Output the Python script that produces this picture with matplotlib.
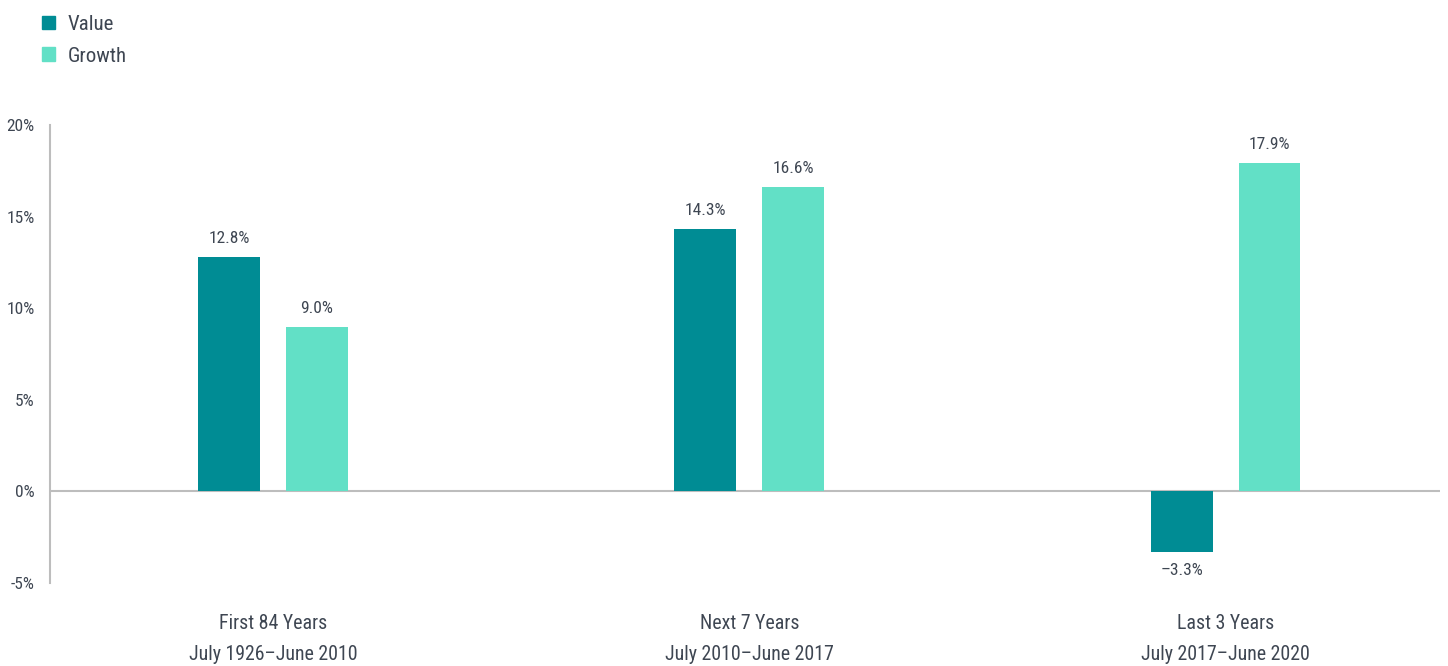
import matplotlib
matplotlib.use("Agg")
import matplotlib.pyplot as plt
import numpy as np
from matplotlib.patches import Patch

periods = ["First 84 Years\nJuly 1926–June 2010",
           "Next 7 Years\nJuly 2010–June 2017",
           "Last 3 Years\nJuly 2017–June 2020"]
value = [12.8, 14.3, -3.3]
growth = [9.0, 16.6, 17.9]
yticks = [-5, 0, 5, 10, 15, 20]
ytick_labels = ["-5%", "0%", "5%", "10%", "15%", "20%"]

VALUE_C = "#008C94"
GROWTH_C = "#62E0C6"
TEXT_C = "#3E4652"
AXIS_C = "#BDBDBD"

plt.rcParams["font.family"] = ["Roboto Condensed", "Roboto", "DejaVu Sans"]

fig = plt.figure(figsize=(14.48, 6.66), dpi=100)
ax = fig.add_axes([0.0345, 0.1246, 0.96, 0.6877])

x = np.arange(len(periods))
w = 0.13
off = 0.092
bv = ax.bar(x - off, value, w, color=VALUE_C)
bg = ax.bar(x + off, growth, w, color=GROWTH_C)

# value labels above (or below) each bar
for bars, vals in ((bv, value), (bg, growth)):
    for b, v in zip(bars, vals):
        cx = b.get_x() + b.get_width() / 2
        lab = f"{v:.1f}%".replace("-", "–")
        if v >= 0:
            ax.text(cx, v + 0.6, lab, ha="center", va="bottom", fontsize=12.5, color=TEXT_C)
        else:
            ax.text(cx, v - 0.6, lab, ha="center", va="top", fontsize=12.5, color=TEXT_C)

ax.axhline(0, color=AXIS_C, lw=1.5, zorder=0)
ax.set_xlim(-0.468, 2.45)
ax.set_ylim(-5, 20)
ax.set_yticks(yticks)
ax.set_yticklabels(ytick_labels, fontsize=12.5, color=TEXT_C)
ax.set_xticks(x)
ax.set_xticklabels(periods, fontsize=14.3, color=TEXT_C, linespacing=1.85)
ax.tick_params(axis="both", length=0)
ax.tick_params(axis="y", pad=11)
ax.tick_params(axis="x", pad=22)
for s in ("top", "right", "bottom"):
    ax.spines[s].set_visible(False)
ax.spines["left"].set_color(AXIS_C)
ax.spines["left"].set_linewidth(1.5)

handles = [Patch(color=VALUE_C, label="Value"), Patch(color=GROWTH_C, label="Growth")]
fig.legend(handles=handles, loc="upper left", bbox_to_anchor=(0.029, 0.978), frameon=False,
           borderaxespad=0, borderpad=0,
           fontsize=15, handlelength=0.62, handleheight=0.62, handletextpad=0.62,
           labelspacing=0.62, labelcolor=TEXT_C)

fig.savefig("out.png", dpi=100)
